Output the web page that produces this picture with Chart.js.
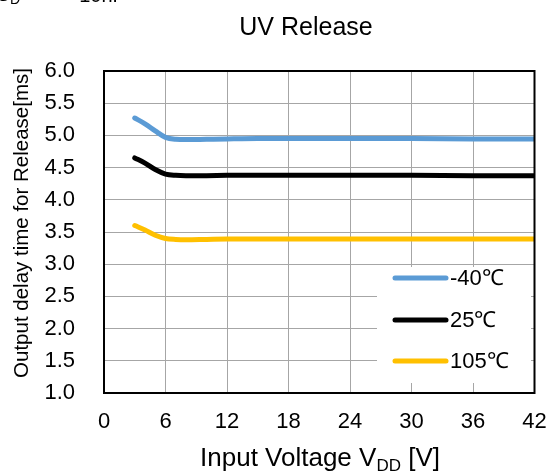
<!DOCTYPE html>
<html>
<head>
<meta charset="utf-8">
<script src="https://cdn.jsdelivr.net/npm/chart.js@4.4.1/dist/chart.umd.min.js"></script>
<style>
html,body{margin:0;padding:0;background:#fff;}
#wrap{width:550px;height:473px;position:relative;}
</style>
</head>
<body>
<div id="wrap"><canvas id="c" width="550" height="473"></canvas></div>
<script>
const voltages = [3, 4, 5, 6, 7, 8, 10, 12, 15, 20, 25, 30, 36, 42];
const seriesM40 = [5.27, 5.18, 5.07, 4.97, 4.94, 4.935, 4.94, 4.945, 4.95, 4.95, 4.95, 4.95, 4.945, 4.945];
const series25 = [4.65, 4.57, 4.47, 4.40, 4.38, 4.375, 4.375, 4.38, 4.38, 4.38, 4.38, 4.38, 4.375, 4.375];
const series105 = [3.60, 3.53, 3.45, 3.40, 3.385, 3.38, 3.385, 3.39, 3.39, 3.39, 3.39, 3.39, 3.39, 3.39];
const seriesNames = ['-40\u2103', '25\u2103', '105\u2103'];
const seriesColors = ['#5B9BD5', '#000000', '#FFC000'];
const xTicks = [0, 6, 12, 18, 24, 30, 36, 42];
const yTicks = [1.0, 1.5, 2.0, 2.5, 3.0, 3.5, 4.0, 4.5, 5.0, 5.5, 6.0];
const chartTitle = 'UV Release';
const yTitle = 'Output delay time for Release[ms]';

const FONT = "'Liberation Sans', Arial, sans-serif";
const toPts = arr => voltages.map((v, i) => ({x: v, y: arr[i]}));
const allSeries = [seriesM40, series25, series105];

const decor = {
  id: 'decor',
  afterDatasetsDraw(chart) {
    const ctx = chart.ctx;
    const a = chart.chartArea;
    ctx.save();
    ctx.fillStyle = '#fff';
    ctx.fillRect(377, 267, 154, 116);
    const rowsY = [278, 320, 361];
    for (let i = 0; i < 3; i++) {
      ctx.strokeStyle = seriesColors[i];
      ctx.lineWidth = 5;
      ctx.lineCap = 'round';
      ctx.beginPath();
      ctx.moveTo(395, rowsY[i]);
      ctx.lineTo(446, rowsY[i]);
      ctx.stroke();
      ctx.fillStyle = '#000';
      ctx.font = '22px ' + FONT;
      ctx.textBaseline = 'middle';
      ctx.textAlign = 'left';
      ctx.fillText(seriesNames[i], 450, rowsY[i] + 1);
    }
    ctx.strokeStyle = '#000';
    ctx.lineWidth = 2;
    ctx.lineCap = 'butt';
    ctx.strokeRect(a.left, a.top, a.right - a.left, a.bottom - a.top);
    ctx.restore();
  },
  afterDraw(chart) {
    const ctx = chart.ctx;
    ctx.save();
    ctx.fillStyle = '#000';
    ctx.textBaseline = 'alphabetic';
    ctx.font = '25px ' + FONT;
    ctx.textAlign = 'center';
    ctx.fillText(chartTitle, 306, 35);
    ctx.textAlign = 'left';
    ctx.font = '20px ' + FONT;
    ctx.fillText('C', -4, 1);
    ctx.font = '14px ' + FONT;
    ctx.fillText('D', 10, 4);
    ctx.font = '20px ' + FONT;
    ctx.fillText('= 10nF', 62, 2);
    const p1 = 'Input Voltage V', p2 = 'DD', p3 = ' [V]';
    ctx.font = '26px ' + FONT;
    const w1 = ctx.measureText(p1).width, w3 = ctx.measureText(p3).width;
    ctx.font = '17px ' + FONT;
    const w2 = ctx.measureText(p2).width;
    let x = 320 - (w1 + w2 + w3) / 2;
    const base = 466;
    ctx.font = '26px ' + FONT;
    ctx.fillText(p1, x, base); x += w1;
    ctx.font = '17px ' + FONT;
    ctx.fillText(p2, x, base + 5); x += w2;
    ctx.font = '26px ' + FONT;
    ctx.fillText(p3, x, base);
    ctx.restore();
    ctx.save();
    ctx.translate(22, 223);
    ctx.rotate(-Math.PI / 2);
    ctx.font = '20.5px ' + FONT;
    ctx.textAlign = 'center';
    ctx.textBaseline = 'middle';
    ctx.fillStyle = '#000';
    ctx.fillText(yTitle, 0, 0);
    ctx.restore();
  }
};

new Chart(document.getElementById('c'), {
  type: 'scatter',
  data: {
    datasets: allSeries.map((s, i) => ({
      label: seriesNames[i],
      data: toPts(s),
      showLine: true,
      borderColor: seriesColors[i],
      backgroundColor: seriesColors[i],
      borderWidth: 5,
      pointRadius: 0,
      cubicInterpolationMode: 'monotone',
      borderCapStyle: 'round',
      borderJoinStyle: 'round'
    }))
  },
  options: {
    responsive: false,
    animation: false,
    layout: {padding: {top: 71, right: 15.5, left: 0, bottom: 0}},
    plugins: {legend: {display: false}, title: {display: false}, tooltip: {enabled: false}},
    scales: {
      x: {
        type: 'linear', min: 0, max: 42,
        afterFit(s) { s.height = 80; },
        afterBuildTicks(s) { s.ticks = xTicks.map(v => ({value: v})); },
        grid: {color: '#A6A6A6', lineWidth: 1, drawTicks: true, tickLength: 15, tickColor: 'rgba(0,0,0,0)'},
        border: {display: false},
        ticks: {font: {family: FONT, size: 22}, color: '#000', padding: 1, maxRotation: 0}
      },
      y: {
        type: 'linear', min: 1, max: 6,
        afterFit(s) { s.width = 104; },
        afterBuildTicks(s) { s.ticks = yTicks.map(v => ({value: v})); },
        grid: {color: '#A6A6A6', lineWidth: 1, drawTicks: true, tickLength: 26, tickColor: 'rgba(0,0,0,0)'},
        border: {display: false},
        ticks: {font: {family: FONT, size: 22}, color: '#000', padding: 3, callback: v => Number(v).toFixed(1)}
      }
    }
  },
  plugins: [decor]
});
</script>
</body>
</html>
